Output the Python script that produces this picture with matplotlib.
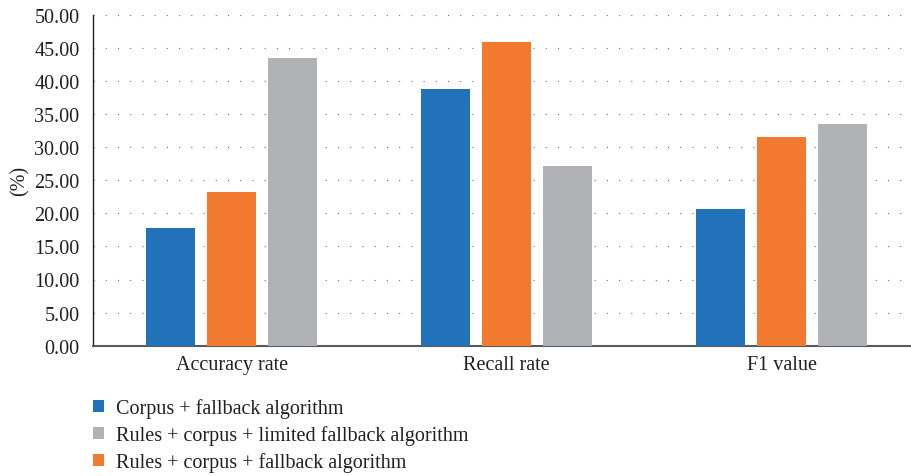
import numpy as np
import matplotlib.pyplot as plt

# Scores (%) for each method on each metric
metrics = ["Accuracy rate", "Recall rate", "F1 value"]
corpus_fallback = [17.8, 38.8, 20.7]
rules_corpus_fallback = [23.2, 45.9, 31.5]
rules_corpus_limited = [43.5, 27.1, 33.5]

labels = ["Corpus + fallback algorithm",
          "Rules + corpus + fallback algorithm",
          "Rules + corpus + limited fallback algorithm"]
colors = ["#2272BA", "#F27A30", "#B1B2B6"]

plt.rcParams['font.family'] = ['Liberation Serif', 'DejaVu Serif']
text_color = "#231F20"
fs = 14.5

fig = plt.figure(figsize=(9.11, 4.77), dpi=100)
ax = fig.add_axes([93.3 / 911, 1 - 346.7 / 477, 1 - 93.3 / 911, 331 / 477])

x = np.arange(len(metrics))
width = 0.178
step = 0.222
series = [corpus_fallback, rules_corpus_fallback, rules_corpus_limited]
bars = []
for i, (vals, lab, col) in enumerate(zip(series, labels, colors)):
    b = ax.bar(x + (i - 1) * step, vals, width, color=col, label=lab, zorder=3)
    bars.append(b)

ax.set_xlim(-0.503, 2.47)
ax.set_ylim(0, 50)
ax.set_yticks(np.arange(0, 50.1, 5))
ax.set_yticklabels([f"{v:.2f}" for v in np.arange(0, 50.1, 5)])
ax.set_xticks(x)
ax.set_xticklabels(metrics)
ax.tick_params(axis='both', length=0, labelsize=fs, colors=text_color)
ax.tick_params(axis='y', pad=10)
ax.tick_params(axis='x', pad=7)

ax.yaxis.grid(True, linestyle=(0, (1, 10)), linewidth=0.8, color="#6d6e71", zorder=0)
ax.set_axisbelow(True)

for s in ["top", "right"]:
    ax.spines[s].set_visible(False)
ax.spines["left"].set_color("#231F20")
ax.spines["left"].set_linewidth(1.0)
ax.spines["bottom"].set_color("#58595B")
ax.spines["bottom"].set_linewidth(1.5)

ax.set_ylabel("(%)", fontsize=fs, color=text_color, labelpad=3)

# legend order: blue, gray, orange
order = [0, 2, 1]
leg = fig.legend([bars[i] for i in order], [labels[i] for i in order],
                 loc="upper left", bbox_to_anchor=(93 / 911, 1 - 399 / 477),
                 frameon=False, fontsize=fs, handlelength=0.55, handleheight=0.55,
                 handletextpad=0.6, labelspacing=0.36, borderpad=0,
                 borderaxespad=0, labelcolor=text_color)

fig.savefig("out.png", dpi=100)
